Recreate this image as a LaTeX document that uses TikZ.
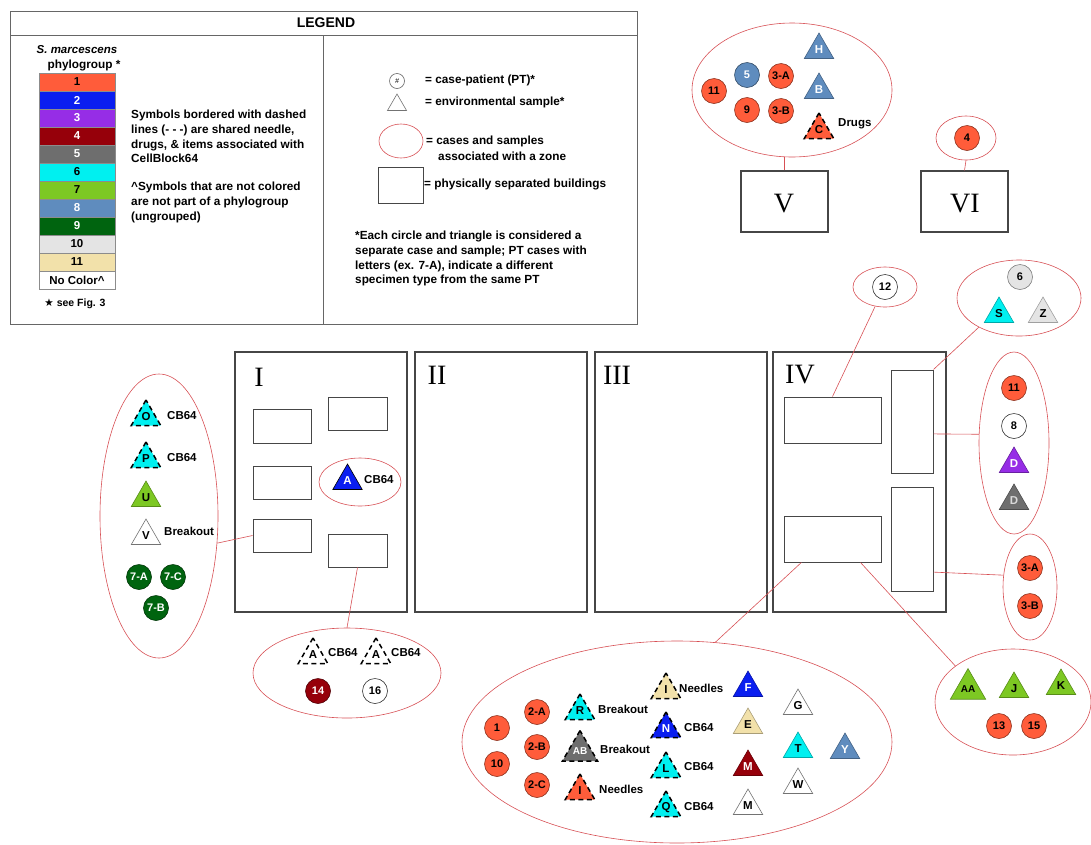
\documentclass[tikz,border=0pt]{standalone}
\usepackage{fontspec}
\setmainfont{Liberation Sans}
\newfontfamily\numfont{Liberation Serif}
\newfontfamily\starfont{DejaVu Sans}
\usetikzlibrary{shapes.geometric}

% phylogroup colours
\definecolor{pg1}{RGB}{255,92,58}
\definecolor{pg2}{RGB}{10,30,240}
\definecolor{pg3}{RGB}{150,45,230}
\definecolor{pg4}{RGB}{150,0,10}
\definecolor{pg5}{RGB}{110,110,110}
\definecolor{pg6}{RGB}{0,240,240}
\definecolor{pg7}{RGB}{125,200,35}
\definecolor{pg8}{RGB}{95,140,190}
\definecolor{pg9}{RGB}{0,100,15}
\definecolor{pg10}{RGB}{228,228,228}
\definecolor{pg11}{RGB}{242,225,170}
\definecolor{zonered}{RGB}{215,80,85}
\definecolor{wall}{RGB}{70,70,70}

\tikzset{
	bldg/.style={draw=wall, line width=1.2pt, minimum width=172pt, minimum height=260pt, inner sep=0pt},
	room/.style={draw=wall, line width=1pt, inner sep=0pt},
	zone/.style={ellipse, draw=zonered, line width=0.6pt, inner sep=0pt},
	link/.style={draw=zonered, line width=0.6pt},
	numeral/.style={font=\numfont\fontsize{28}{28}\selectfont, inner sep=0pt},
	tag/.style={anchor=west, inner sep=0pt, font=\bfseries\fontsize{11.5}{13}\selectfont},
	keytag/.style={anchor=west, inner sep=0pt, font=\bfseries\fontsize{11.8}{13}\selectfont},
	keytext/.style={anchor=north west, align=left, inner sep=0pt, font=\bfseries\fontsize{11.8}{14.7}\selectfont},
	swatch/.style={draw=black!45, line width=0.5pt, minimum width=76pt, minimum height=18pt, inner sep=0pt, font=\bfseries\fontsize{11.5}{11.5}\selectfont},
	pt/.style={circle, minimum size=25pt, inner sep=0pt, fill=#1, draw=#1!55!black, line width=0.6pt, font=\bfseries\fontsize{11}{11}\selectfont},
	ptw/.style={pt=white, draw=black!80},
	env/.style={regular polygon, regular polygon sides=3, minimum size=34pt, inner sep=0pt, fill=#1, draw=#1!70!black, line width=0.6pt, font=\bfseries\fontsize{11.5}{11.5}\selectfont},
	envw/.style={env=white, draw=black!55},
	shared/.style={draw=black, line width=1.5pt, dash pattern=on 5pt off 3.5pt},
	duo/.style={font=\bfseries\fontsize{10}{10}\selectfont}
}

\begin{document}
\begin{tikzpicture}[x=1pt, y=-1pt]
	\useasboundingbox (0,0) rectangle (1091,844);

	% Legend frame
	\draw[draw=black!60, line width=0.8pt] (10,11) rectangle (637,324);
	\draw[draw=black!60, line width=0.8pt] (10,35) -- (637,35);
	\draw[draw=black!60, line width=0.8pt] (323,35) -- (323,324);
	\node[font=\bfseries\fontsize{14}{16}\selectfont] (legTitle) at (326,23) {LEGEND};

	% Phylogroup colour column
	\node[font=\bfseries\itshape\fontsize{11.5}{13}\selectfont] (pgTitle) at (77,50) {S. marcescens};
	\node[font=\bfseries\fontsize{11.8}{13}\selectfont] (pgSub) at (84,65) {phylogroup *};
	\foreach \n/\tc [count=\i from 0] in {1/black,2/white,3/white,4/white,5/white,6/black,7/black,8/white,9/white,10/black,11/black}
		\node[swatch, fill=pg\n, text=\tc] (sw\n) at (77,82+18*\i) {\n};
	\node[swatch, fill=white] (swNone) at (77,280) {No Color\textasciicircum};
	\node[font=\bfseries\fontsize{10.5}{12}\selectfont] (pgNote) at (75,304) {{\starfont\mdseries ★} see Fig. 3};

	\node[keytext] (keyDash) at (131,110) {Symbols bordered with dashed\\lines (- - -) are shared needle,\\drugs, \& items associated with\\CellBlock64};
	\node[keytext] (keyNone) at (131,182) {\textasciicircum Symbols that are not colored\\are not part of a phylogroup\\(ungrouped)};

	% Symbol key
	\node[ptw, draw=black!60, minimum size=15pt, font=\itshape\fontsize{7}{7}\selectfont] (keyPt) at (397,81) {\#};
	\node[keytag] (keyPtTxt) at (425,80) {= case-patient (PT)*};
	\node[envw, minimum size=22pt] (keyEnv) at (397,105) {};
	\node[keytag] (keyEnvTxt) at (425,102) {= environmental sample*};
	\node[zone, minimum width=44pt, minimum height=34pt] (keyZone) at (401,141) {};
	\node[keytag] (keyZoneTxt) at (426,141) {= cases and samples};
	\node[keytag] (keyZoneTxt2) at (438,156) {associated with a zone};
	\node[room, minimum width=45pt, minimum height=36pt] (keyBldg) at (400.5,185) {};
	\node[keytag] (keyBldgTxt) at (424,184) {= physically separated buildings};
	\node[keytext] (keyFoot) at (355,231) {*Each circle and triangle is considered a\\separate case and sample; PT cases with\\letters (ex. 7-A), indicate a different\\specimen type from the same PT};

	% Building V and its zone
	\node[room, line width=1.2pt, minimum width=87pt, minimum height=61pt] (bV) at (784.5,201.5) {};
	\node[numeral] (lblV) at (784,204) {V};
	\node[zone, minimum width=200pt, minimum height=134pt] (zV) at (792,90) {};
	\node[pt=pg1] (v11) at (714,91) {11};
	\node[pt=pg8, text=white] (v5) at (747,75) {5};
	\node[pt=pg1] (v3A) at (781,76) {3-A};
	\node[pt=pg1] (v9) at (747,110) {9};
	\node[pt=pg1] (v3B) at (781,111) {3-B};
	\node[env=pg8, text=white] (vH) at (819,50) {H};
	\node[env=pg8, text=white] (vB) at (819,90) {B};
	\node[env=pg1, shared] (vC) at (819,130) {C};
	\node[tag] (vCtag) at (838,124) {Drugs};
	\draw[link] (bV.north) -- (bV.north |- zV.south);

	% Building VI and its zone
	\node[room, line width=1.2pt, minimum width=87pt, minimum height=61pt] (bVI) at (964.5,201.5) {};
	\node[numeral] (lblVI) at (965,204) {VI};
	\node[zone, minimum width=60pt, minimum height=44pt] (z4) at (966,138) {};
	\node[pt=pg1] (vi4) at (967,138) {4};
	\draw[link] (z4.south) -- (bVI.north);

	% Buildings I to IV
	\node[bldg] (bI) at (321,482) {};
	\node[bldg] (bII) at (501,482) {};
	\node[bldg] (bIII) at (681,482) {};
	\node[bldg, minimum width=173pt] (bIV) at (859.5,482) {};
	\node[numeral] (lblI) at (259,377) {I};
	\node[numeral] (lblII) at (437,375) {II};
	\node[numeral] (lblIII) at (617,375) {III};
	\node[numeral] (lblIV) at (800,375) {IV};

	% Rooms in I
	\node[room, minimum width=58pt, minimum height=34pt] (rI1) at (282,426) {};
	\node[room, minimum width=59pt, minimum height=33pt] (rI2) at (357.5,413.5) {};
	\node[room, minimum width=58pt, minimum height=33pt] (rI3) at (282,482.5) {};
	\node[room, minimum width=58pt, minimum height=33pt] (rI4) at (282,535.5) {};
	\node[room, minimum width=59pt, minimum height=33pt] (rI5) at (357.5,550.5) {};
	\node[zone, minimum width=82pt, minimum height=48pt] (zA) at (360,482) {};
	\node[env=pg2, text=white, draw=black] (iA) at (347.5,481) {A};
	\node[tag] (iAtag) at (364,480) {CB64};

	% Rooms in IV
	\node[room, minimum width=97pt, minimum height=46pt] (rIVa) at (832.5,420) {};
	\node[room, minimum width=42pt, minimum height=103pt] (rIVb) at (912,421.5) {};
	\node[room, minimum width=97pt, minimum height=46pt] (rIVc) at (832.5,539) {};
	\node[room, minimum width=42pt, minimum height=104pt] (rIVd) at (912,539) {};

	% Zone left of I
	\node[zone, minimum width=118pt, minimum height=284pt] (zL) at (159,516) {};
	\node[env=pg6, shared] (lO) at (146,417) {O};
	\node[tag] (lOtag) at (167,416) {CB64};
	\node[env=pg6, shared] (lP) at (146,459) {P};
	\node[tag] (lPtag) at (167,458) {CB64};
	\node[env=pg7] (lU) at (146,498) {U};
	\node[envw] (lV) at (146,536) {V};
	\node[tag] (lVtag) at (164,531) {Breakout};
	\node[pt=pg9, text=white] (l7A) at (139,577) {7-A};
	\node[pt=pg9, text=white] (l7C) at (173,577) {7-C};
	\node[pt=pg9, text=white] (l7B) at (156,608) {7-B};
	\draw[link] (zL.-25) -- (rI4.west);

	% Zone below I
	\node[zone, minimum width=188pt, minimum height=90pt] (zA2) at (347,673) {};
	\node[envw, shared] (a2A) at (313,655) {A};
	\node[tag] (a2Atag) at (328,653) {CB64};
	\node[envw, shared] (a2B) at (376,655) {A};
	\node[tag] (a2Btag) at (391,653) {CB64};
	\node[pt=pg4, text=white] (p14) at (318,691) {14};
	\node[ptw] (p16) at (375,691) {16};
	\draw[link] (rI5.south) -- (zA2.north);

	% Zones round IV
	\node[zone, minimum width=64pt, minimum height=40pt] (z12) at (885,287) {};
	\node[ptw] (p12) at (885,287) {12};
	\draw[link] (z12.-117) -- (rIVa.north);

	\node[zone, minimum width=124pt, minimum height=76pt] (z6) at (1019,298) {};
	\node[pt=pg10] (p6) at (1020,277) {6};
	\node[env=pg6] (tS) at (999,314) {S};
	\node[env=pg10] (tZ) at (1043,314) {Z};
	\draw[link] (z6.-144) -- (rIVb.north east);

	\node[zone, minimum width=70pt, minimum height=182pt] (z11) at (1014,443) {};
	\node[pt=pg1] (p11) at (1014,388) {11};
	\node[ptw] (p8) at (1014,426) {8};
	\node[env=pg3, text=white] (tD1) at (1014,464) {D};
	\node[env=pg5, text=white!85!black] (tD2) at (1014,501) {D};
	\draw[link] (rIVb.-30) -- (z11.166);

	\node[zone, minimum width=54pt, minimum height=106pt] (z3) at (1030,587) {};
	\node[pt=pg1] (p3A) at (1030,568) {3-A};
	\node[pt=pg1] (p3B) at (1030,606) {3-B};
	\draw[link] (rIVd.-57) -- (z3.156);

	\node[zone, minimum width=156pt, minimum height=106pt] (zR) at (1013,702) {};
	\node[env=pg7, duo] (tAA) at (968,689) {AA};
	\node[env=pg7] (tJ) at (1014,689) {J};
	\node[env=pg7] (tK) at (1061,686) {K};
	\node[pt=pg1] (p13) at (999,726) {13};
	\node[pt=pg1] (p15) at (1034,726) {15};
	\draw[link] (rIVc.-40) -- (zR.148);

	% Big zone below IV
	\node[zone, minimum width=430pt, minimum height=202pt] (zB) at (677,742) {};
	\node[pt=pg1] (p1) at (497,728) {1};
	\node[pt=pg1] (p10) at (497,764) {10};
	\node[pt=pg1] (p2A) at (537,712) {2-A};
	\node[pt=pg1] (p2B) at (537,747) {2-B};
	\node[pt=pg1] (p2C) at (537,785) {2-C};
	\node[env=pg6, shared] (tR) at (580,711) {R};
	\node[tag] (tRtag) at (598,709) {Breakout};
	\node[env=pg5, shared, duo, text=white] (tAB) at (580,751) {AB};
	\node[tag] (tABtag) at (600,749) {Breakout};
	\node[env=pg1, shared] (tI1) at (580,791) {I};
	\node[tag] (tI1tag) at (599,789) {Needles};
	\node[env=pg11, shared] (tI2) at (666,690) {I};
	\node[tag] (tI2tag) at (679,688) {Needles};
	\node[env=pg2, shared, text=white] (tN) at (666,729) {N};
	\node[tag] (tNtag) at (684,728) {CB64};
	\node[env=pg6, shared] (tL) at (666,769) {L};
	\node[tag] (tLtag) at (684,767) {CB64};
	\node[env=pg6, shared] (tQ) at (666,808) {Q};
	\node[tag] (tQtag) at (684,807) {CB64};
	\node[env=pg2, text=white] (tF) at (748,688) {F};
	\node[env=pg11] (tE) at (748,725) {E};
	\node[env=pg4, text=white] (tM1) at (748,767) {M};
	\node[envw] (tM2) at (748,806) {M};
	\node[envw] (tG) at (798,706) {G};
	\node[env=pg6] (tT) at (798,749) {T};
	\node[envw] (tW) at (798,785) {W};
	\node[env=pg8, text=white] (tY) at (845,750) {Y};
	\draw[link] (rIVc.-143) -- (zB.69);
\end{tikzpicture}
\end{document}
